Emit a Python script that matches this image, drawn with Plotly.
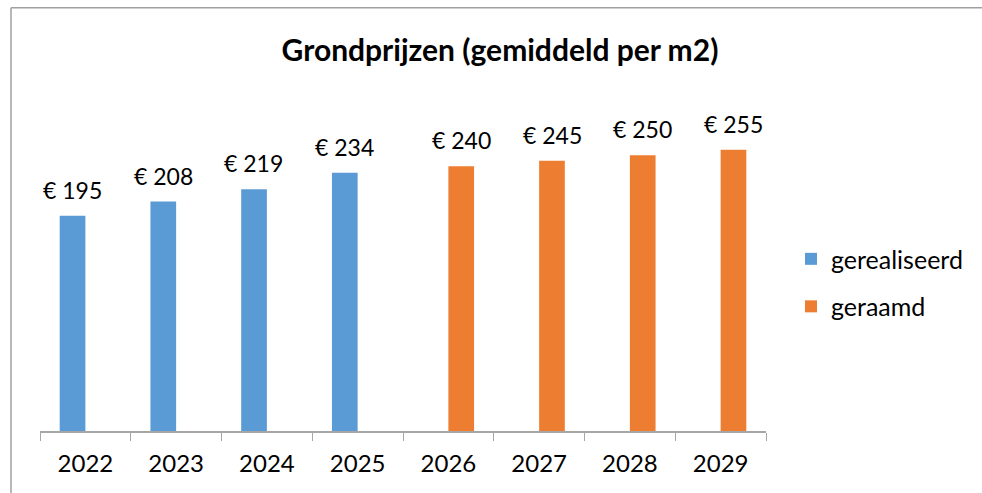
import plotly.graph_objects as go

years = ["2022", "2023", "2024", "2025", "2026", "2027", "2028", "2029"]
gerealiseerd = [195, 208, 219, 234, None, None, None, None]
geraamd = [None, None, None, None, 240, 245, 250, 255]

W, H = 982, 493
L, R, T, B = 40, 216, 99.5, 61.5

fig = go.Figure()
fig.add_trace(go.Bar(
    x=years, y=gerealiseerd, name="gerealiseerd", legendgroup="a",
    marker=dict(color="#5B9BD5", line=dict(width=0)),
))
fig.add_trace(go.Bar(
    x=years, y=geraamd, name="geraamd", legendgroup="b",
    marker=dict(color="#ED7D31", line=dict(width=0)),
))

# data labels above each bar (category index, shifted half a bar like the grouped bars)
for vals, shift in ((gerealiseerd, -13), (geraamd, 13)):
    for i, v in enumerate(vals):
        if v is None:
            continue
        fig.add_annotation(x=i, y=v, text=f"€ {v}", showarrow=False,
                           xanchor="center", yanchor="bottom",
                           xshift=shift, yshift=10,
                           font=dict(size=23, color="#000000"))

# chart frame (top and left edges visible in the reference)
pw, ph = W - L - R, H - T - B
def px_x(p): return (p - L) / pw
def px_y(p): return (H - B - p) / ph

fig.add_shape(type="line", xref="paper", yref="paper",
              x0=px_x(11), x1=px_x(990), y0=px_y(7), y1=px_y(7),
              line=dict(color="#A0A0A0", width=1.5))
fig.add_shape(type="line", xref="paper", yref="paper",
              x0=px_x(11), x1=px_x(11), y0=px_y(7), y1=px_y(500),
              line=dict(color="#A0A0A0", width=1.5))

fig.update_layout(
    width=W, height=H,
    margin=dict(l=L, r=R, t=T, b=B),
    paper_bgcolor="white", plot_bgcolor="white",
    font=dict(family="Lato, Carlito, Calibri, sans-serif", color="#000000"),
    title=dict(text="<b>Grondprijzen (gemiddeld per m2)</b>",
               x=500 / W, xanchor="center", xref="container",
               y=1 - 50 / H, yanchor="middle", yref="container",
               font=dict(size=30, color="#000000")),
    barmode="group", bargap=0.434, bargroupgap=0,
    showlegend=True,
    legend=dict(x=px_x(791), xanchor="left", y=px_y(236), yanchor="top",
                font=dict(size=25, color="#000000"),
                tracegroupgap=12, traceorder="grouped",
                itemwidth=30, bgcolor="rgba(0,0,0,0)"),
)
fig.update_xaxes(
    type="category", categoryorder="array", categoryarray=years,
    range=[-0.5, len(years) - 0.5],
    showline=True, linecolor="#A6A6A6", linewidth=1.5,
    ticks="outside", tickson="boundaries", ticklen=8, tickcolor="#A6A6A6",
    tickfont=dict(size=24, color="#000000"), showgrid=False,
    ticklabelstandoff=10,
)
fig.update_yaxes(range=[0, 300], visible=False, showgrid=False)

fig.write_html("out.html", config={"displayModeBar": False},
               post_script="document.body.style.margin='0';")
